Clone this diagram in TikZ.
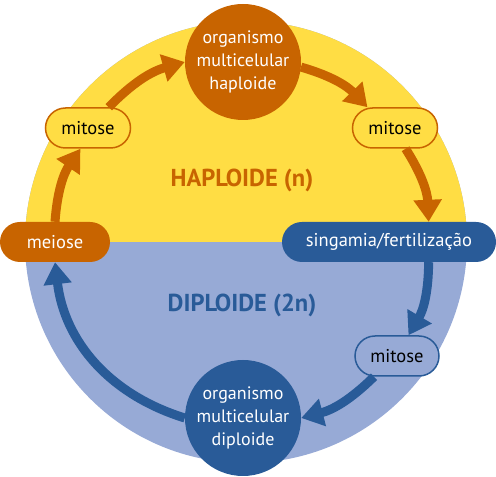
\documentclass[tikz,border=0pt]{standalone}
\usepackage{fontspec}
\setmainfont{PT Sans}
\usetikzlibrary{arrows.meta, positioning, shapes}
\definecolor{HapYellow}{RGB}{255, 221, 68}
\definecolor{HapOrange}{RGB}{200, 100, 0}
\definecolor{DipLight}{RGB}{151, 170, 214}
\definecolor{DipBlue}{RGB}{41, 91, 152}

\begin{document}
\begin{tikzpicture}[x=1pt, y=1pt,
        organism/.style={circle, minimum size=116pt, inner sep=0pt, align=center, text=white, font=\fontsize{18}{23}\selectfont},
        phase/.style={rectangle, rounded corners=20pt, minimum height=40pt, inner sep=2pt, align=center, font=\fontsize{18.5}{20}\selectfont},
        hapbox/.style={phase, draw=HapOrange, line width=1.5pt, fill=HapYellow, minimum width=85pt},
        dipbox/.style={phase, draw=DipBlue, line width=1.5pt, fill=DipLight, minimum width=84pt},
        hparrow/.style={-{Triangle[width=27pt, length=22pt]}, line width=9pt, HapOrange},
        dparrow/.style={-{Triangle[width=27pt, length=22pt]}, line width=9pt, DipBlue},
        label/.style={font=\bfseries\fontsize{24.5}{28}\selectfont}]

        \useasboundingbox (0,0) rectangle (496,477);

        % Background
        \fill[DipLight] (246,235) circle (221);
        \fill[HapYellow] (25,235) arc[start angle=180, end angle=0, radius=221] -- cycle;

        % Labels
        \node[label, text=HapOrange] (haplabel) at (242,297) {HAPLOIDE (n)};
        \node[label, text=DipBlue] (diplabel) at (242,172) {DIPLOIDE (2n)};

        % Organisms
        \node[organism, fill=HapOrange] (hapO) at (243,415) {organismo\\multicelular\\haploide};
        \node[organism, fill=DipBlue] (dipO) at (243,59) {organismo\\multicelular\\diploide};

        % Phases
        \node[hapbox] (mitA) at (88,349) {mitose};
        \node[hapbox] (mitB) at (395,349) {mitose};
        \node[dipbox] (mitC) at (397,121) {mitose};
        \node[phase, fill=HapOrange, text=white, minimum width=110pt] (meiose) at (55,235) {meiose};
        \node[phase, fill=DipBlue, text=white, minimum width=214pt] (sing) at (389,235) {singamia/fertilização};

        % Arrows
        \draw[hparrow] (meiose.north) to[bend left=15] (mitA.250);
        \draw[hparrow] (mitA.45) to[bend left=15] (hapO.west);
        \draw[hparrow] (hapO.-5) to[bend left=15] (mitB.143);
        \draw[hparrow] (mitB.-63) to[bend left=15] (sing.27);
        \draw[dparrow] (sing.-27) to[bend left=15] (mitC.61);
        \draw[dparrow] (mitC.222) to[bend left=15] (dipO.east);
        \draw[dparrow] (dipO.west) to[bend left=33] (meiose.south);

    \end{tikzpicture}
\end{document}
